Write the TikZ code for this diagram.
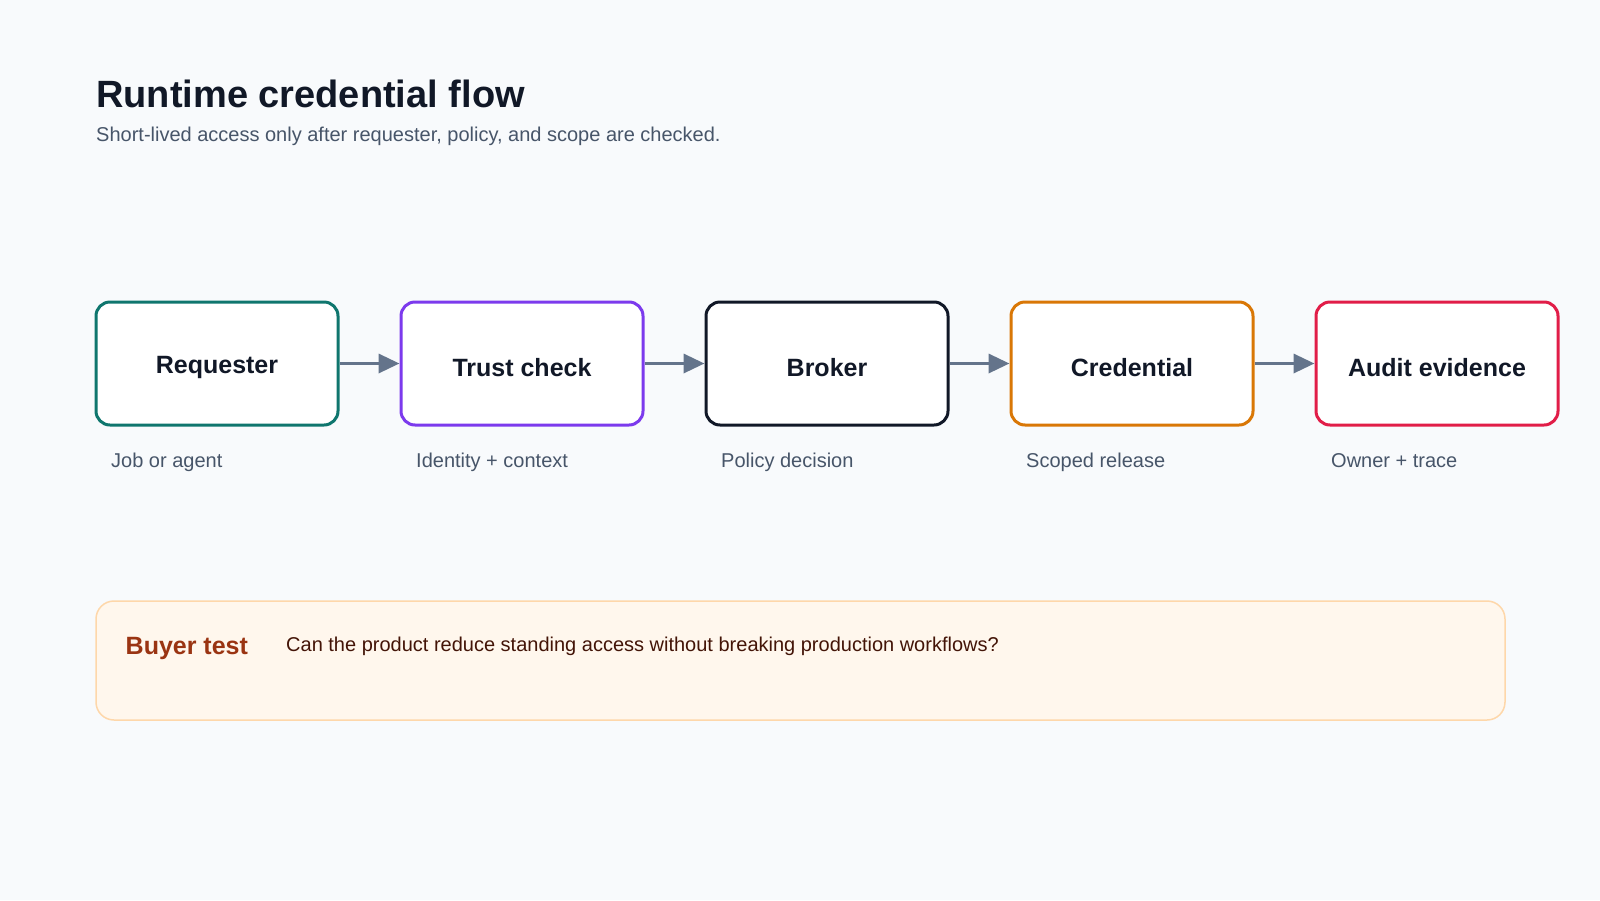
\documentclass[tikz,border=0pt]{standalone}
\usepackage{fontspec}
\setmainfont{Liberation Sans}
\usetikzlibrary{arrows.meta}
\definecolor{bg}{HTML}{F8FAFC}
\definecolor{ink}{HTML}{111827}
\definecolor{sub}{HTML}{475569}
\definecolor{arrowc}{HTML}{64748B}
\definecolor{cteal}{HTML}{0F766E}
\definecolor{cpurple}{HTML}{7C3AED}
\definecolor{cdark}{HTML}{111827}
\definecolor{corange}{HTML}{D97706}
\definecolor{ccrimson}{HTML}{E11D48}
\definecolor{notefill}{HTML}{FFF7ED}
\definecolor{notedraw}{HTML}{FED7AA}
\definecolor{notehead}{HTML}{9A3412}
\definecolor{notetext}{HTML}{431407}
\tikzset{
  stepbox/.style={draw=#1, line width=3pt, fill=white, rounded corners=14pt,
    minimum width=242pt, minimum height=123pt, inner sep=0pt},
  steptext/.style={font=\fontsize{25}{29}\selectfont\bfseries, text=ink, anchor=base, inner sep=0pt},
  steplabel/.style={font=\fontsize{20}{24}\selectfont, text=sub, anchor=base west, inner sep=0pt},
  flow/.style={draw=arrowc, line width=3.5pt, -{Triangle[length=21pt, width=19pt]}, shorten >=0pt},
}
\begin{document}
\begin{tikzpicture}[x=1pt, y=-1pt]
\useasboundingbox (0,0) rectangle (1600,900);
\fill[bg] (0,0) rectangle (1600,900);

\node[anchor=base west, inner sep=0pt, font=\fontsize{38}{44}\selectfont\bfseries, text=ink] (title) at (96,107) {Runtime credential flow};
\node[anchor=base west, inner sep=0pt, font=\fontsize{20}{24}\selectfont, text=sub] (subtitle) at (96,141) {Short-lived access only after requester, policy, and scope are checked.};

\node[stepbox=cteal] (b1) at (217,363.5) {};
\node[stepbox=cpurple] (b2) at (522,363.5) {};
\node[stepbox=cdark] (b3) at (827,363.5) {};
\node[stepbox=corange] (b4) at (1132,363.5) {};
\node[stepbox=ccrimson] (b5) at (1437,363.5) {};

\node[steptext] (t1) at (217,373) {Requester};
\node[steptext] (t2) at (522,376) {Trust check};
\node[steptext] (t3) at (827,376) {Broker};
\node[steptext] (t4) at (1132,376) {Credential};
\node[steptext] (t5) at (1437,376) {Audit evidence};

\node[steplabel] (l1) at (111,467) {Job or agent};
\node[steplabel] (l2) at (416,467) {Identity + context};
\node[steplabel] (l3) at (721,467) {Policy decision};
\node[steplabel] (l4) at (1026,467) {Scoped release};
\node[steplabel] (l5) at (1331,467) {Owner + trace};

\draw[flow] (b1.east) -- (b2.west);
\draw[flow] (b2.east) -- (b3.west);
\draw[flow] (b3.east) -- (b4.west);
\draw[flow] (b4.east) -- (b5.west);

\node[draw=notedraw, fill=notefill, line width=1.5pt, rounded corners=18pt,
  minimum width=1409pt, minimum height=119pt, inner sep=0pt] (note) at (800.5,660.5) {};
\node[anchor=base west, inner sep=0pt, font=\fontsize{25}{29}\selectfont\bfseries, text=notehead] (notehead) at (125.5,654) {Buyer test};
\node[anchor=base west, inner sep=0pt, font=\fontsize{20}{24}\selectfont, text=notetext] (notebody) at (286,651) {Can the product reduce standing access without breaking production workflows?};
\end{tikzpicture}
\end{document}
